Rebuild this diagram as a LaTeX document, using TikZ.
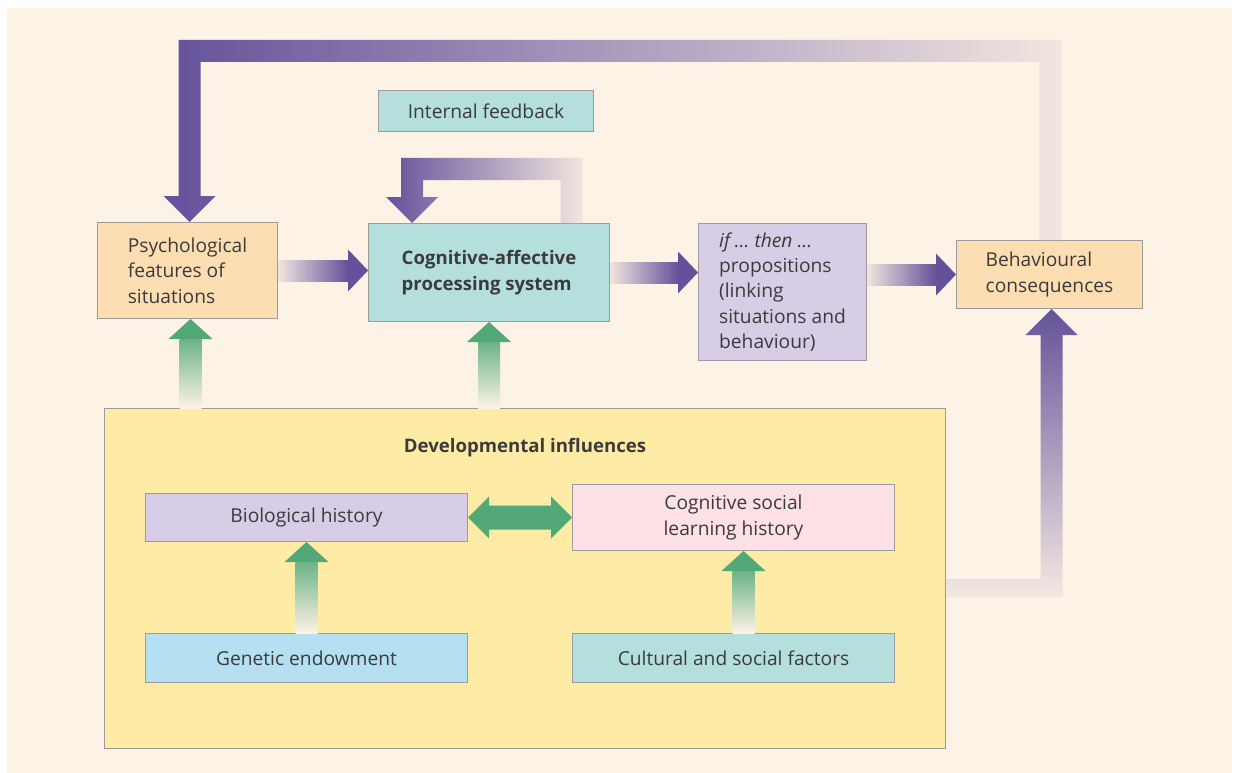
\documentclass[tikz,border=0pt]{standalone}
\usepackage{fontspec}
\setmainfont{Open Sans}
\usetikzlibrary{calc}

\definecolor{bg}{HTML}{FDF2E6}
\definecolor{plum}{HTML}{63529A}
\definecolor{leaf}{HTML}{52A877}
\definecolor{tealbox}{HTML}{B5DFDD}
\definecolor{peach}{HTML}{FDDDB2}
\definecolor{lilac}{HTML}{D8CDE6}
\definecolor{straw}{HTML}{FEEBA5}
\definecolor{blush}{HTML}{FDE1E6}
\definecolor{sky}{HTML}{B4E0F1}
\definecolor{edge}{HTML}{9B9B9B}
\definecolor{ink}{HTML}{3B3B3B}

% green block arrow pointing up: #1 tip, #2 tail point below it
\newcommand{\riseto}[2]{%
  \shade[top color=leaf!85!bg, bottom color=bg] ($(#1)+(-11,20)$) rectangle ($(#2)+(11,0)$);
  \fill[leaf] (#1) -- ($(#1)+(-22,20)$) -- ($(#1)+(22,20)$) -- cycle;
}
% purple block arrow pointing right: #1 tail, #2 tip (same height)
\newcommand{\pushto}[2]{%
  \shade[left color=plum!8!bg, right color=plum] ($(#1)+(0,-10.5)$) rectangle ($(#2)+(-20,10.5)$);
  \fill[plum] ($(#2)+(-20,-21)$) -- (#2) -- ($(#2)+(-20,21)$) -- cycle;
}

\begin{document}
\begin{tikzpicture}[x=1pt,y=-1pt,
  box/.style={draw=edge, line width=1pt, inner sep=0pt, anchor=north west,
    align=left, text=ink, font=\fontsize{19.2}{25.3}\selectfont},
  boxc/.style={box, align=center}]
\useasboundingbox (0,0) rectangle (1237,773);
\fill[white] (0,0) rectangle (1237,773);
\fill[bg] (7,8) rectangle (1232,773);

% developmental influences panel
\node[box, fill=straw, minimum width=841, minimum height=340] (dev) at (104,408) {};
\node[text=ink, font=\fontsize{18.6}{22}\selectfont\bfseries] (devtitle)
  at ($(dev.north)+(0,40)$) {Developmental influences};
\node[boxc, fill=lilac, minimum width=322, minimum height=48] (bio) at (145,493) {Biological history};
\node[boxc, fill=blush, minimum width=322, minimum height=66] (cogsoc) at (572,484)
  {Cognitive social\\learning history};
\node[boxc, fill=sky, minimum width=322, minimum height=49] (gene) at (145,633) {Genetic endowment};
\node[boxc, fill=tealbox, minimum width=322, minimum height=49] (cult) at (572,633) {Cultural and social factors};

% main processing chain
\node[box, fill=peach, minimum width=180, minimum height=96] (psych) at (97,222)
  {Psychological\\features of\\situations};
\node[box, fill=tealbox, minimum width=241, minimum height=98, font=\fontsize{18.6}{25.3}\selectfont\bfseries] (cog) at (368,223)
  {Cognitive-affective\\processing system};
\node[box, fill=lilac, minimum width=168, minimum height=137] (ifthen) at (698,223)
  {\itshape if \dots\ then \dots\\propositions\\(linking\\situations and\\behaviour)};
\node[box, fill=peach, minimum width=186, minimum height=68] (behav) at (956,240)
  {Behavioural\\consequences};
\node[boxc, fill=tealbox, minimum width=215, minimum height=41] (fbbox) at (378,90) {Internal feedback};

% forward arrows
\pushto{psych.east}{cog.west |- psych.east}
\pushto{cog.east}{ifthen.west |- cog.east}
\pushto{ifthen.east |- behav.west}{behav.west}

% developmental influences feeding upward
\coordinate (gpsy) at ($(psych.south)+(3,0)$);
\riseto{gpsy}{gpsy |- dev.north}
\riseto{cog.south}{cog.south |- dev.north}
\riseto{bio.south}{bio.south |- gene.north}
\coordinate (gcul) at ($(cogsoc.south)+(10,0)$);
\riseto{gcul}{gcul |- cult.north}

% two-way link between the histories
\fill[leaf] (bio.east) -- ($(bio.east)+(21,-21)$) -- ($(bio.east)+(21,-12)$)
  -- ($(cogsoc.west)+(-21,-12)$) -- ($(cogsoc.west)+(-21,-21)$) -- (cogsoc.west)
  -- ($(cogsoc.west)+(-21,21)$) -- ($(cogsoc.west)+(-21,12)$)
  -- ($(bio.east)+(21,12)$) -- ($(bio.east)+(21,21)$) -- cycle;

% consequences fed back to the situation
\coordinate (fbtop) at (0,40);
\coordinate (fbL) at ($(psych.north)+(2,0)$);
\coordinate (fbR) at ($(behav.north)+(1,0)$);
\coordinate (fbLa) at ($(fbL)+(-11,0)$);
\coordinate (fbLb) at ($(fbL)+(11,0)$);
\coordinate (fbRa) at ($(fbR)+(-11,0)$);
\coordinate (fbRb) at ($(fbR)+(11,0)$);
\shade[left color=plum, right color=plum!8!bg]
  (fbL) -- ($(fbL)+(-26,-26)$) -- ($(fbLa)+(0,-26)$) -- (fbLa |- fbtop)
  -- (fbRb |- fbtop) -- (fbRb) -- (fbRa) -- ($(fbRa |- fbtop)+(0,22)$)
  -- ($(fbLb |- fbtop)+(0,22)$) -- ($(fbLb)+(0,-26)$) -- ($(fbL)+(26,-26)$) -- cycle;

% internal feedback loop on the processing system
\coordinate (ibtop) at ($(fbbox.south)+(0,26)$);
\coordinate (ibL) at ($(cog.north west)+(44,0)$);
\coordinate (ibR) at ($(cog.north east)+(-38.5,0)$);
\coordinate (ibLa) at ($(ibL)+(-11,0)$);
\coordinate (ibLb) at ($(ibL)+(11,0)$);
\coordinate (ibRa) at ($(ibR)+(-11,0)$);
\coordinate (ibRb) at ($(ibR)+(11,0)$);
\shade[left color=plum, right color=plum!8!bg]
  (ibL) -- ($(ibL)+(-26,-26)$) -- ($(ibLa)+(0,-26)$) -- (ibLa |- ibtop)
  -- (ibRb |- ibtop) -- (ibRb) -- (ibRa) -- ($(ibRa |- ibtop)+(0,22)$)
  -- ($(ibLb |- ibtop)+(0,22)$) -- ($(ibLb)+(0,-26)$) -- ($(ibL)+(26,-26)$) -- cycle;

% developmental influences on consequences
\coordinate (brlow) at (0,597);
\coordinate (brT) at ($(behav.south)+(2,0)$);
\coordinate (brTa) at ($(brT)+(-11,0)$);
\coordinate (brTb) at ($(brT)+(11,0)$);
\shade[top color=plum, bottom color=plum!6!bg]
  (brT) -- ($(brT)+(26,26)$) -- ($(brTb)+(0,26)$) -- (brTb |- brlow)
  -- (dev.east |- brlow) -- ($(dev.east |- brlow)+(0,-18)$)
  -- ($(brTa |- brlow)+(0,-18)$) -- ($(brTa)+(0,26)$) -- ($(brT)+(-26,26)$) -- cycle;
\end{tikzpicture}
\end{document}
